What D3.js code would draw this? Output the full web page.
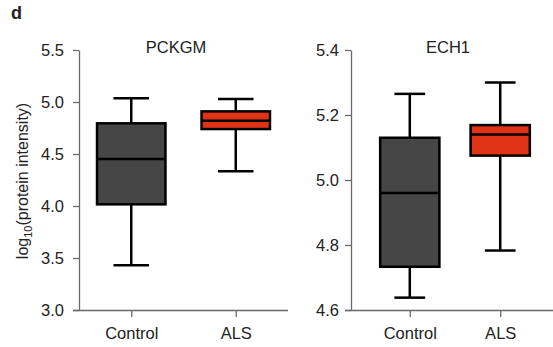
<!DOCTYPE html>
<html>
<head>
<meta charset="utf-8">
<script src="https://cdn.jsdelivr.net/npm/d3@7"></script>
<style>
  body { margin: 0; background: #fff; }
  svg text { font-family: "Liberation Sans", Arial, Helvetica, sans-serif; fill: #222; }
</style>
</head>
<body>
<svg id="chart" width="553" height="347"></svg>
<script>
// groups and panels
const categories = ["Control", "ALS"];
const panelTitles = ["PCKGM", "ECH1"];

// box stats: [whisker low, q1, median, q3, whisker high]
const pckgmControl = [3.43, 4.016, 4.452, 4.795, 5.036];
const pckgmALS = [4.334, 4.74, 4.82, 4.91, 5.03];
const ech1Control = [4.638, 4.733, 4.96, 5.13, 5.265];
const ech1ALS = [4.783, 5.075, 5.14, 5.169, 5.30];

// axis ticks
const pckgmTicks = [3.0, 3.5, 4.0, 4.5, 5.0, 5.5];
const ech1Ticks = [4.6, 4.8, 5.0, 5.2, 5.4];

const fills = {Control: "#464646", ALS: "#e03214"};

let svg = d3.select("#chart");

// panel label
svg.append("text").attr("x", 11).attr("y", 19)
   .style("font-weight", "bold").style("font-size", "18px").text("d");

// y title
let yt = svg.append("text")
   .attr("transform", "translate(28,181) rotate(-90)")
   .attr("text-anchor", "middle").style("font-size", "16px");
yt.append("tspan").text("log");
yt.append("tspan").attr("dy", 4).style("font-size", "11px").text("10");
yt.append("tspan").attr("dy", -4).text("(protein intensity)");

function panel(opts) {
  let y = d3.scaleLinear().domain(opts.domain).range([310, 50]);
  let x = d3.scalePoint().domain(categories).range(opts.xr).padding(opts.pad);
  let step = x.step();
  let g = svg.append("g");

  let ya = g.append("g").attr("transform", `translate(${opts.xr[0]},0)`)
     .call(d3.axisLeft(y).tickValues(opts.ticks).tickFormat(d3.format(".1f"))
       .tickSize(6).tickPadding(opts.ypad).tickSizeOuter(0));
  let xa = g.append("g").attr("transform", "translate(0,310)")
     .call(d3.axisBottom(x).tickSize(7).tickPadding(10).tickSizeOuter(0));
  xa.select(".domain").attr("d", `M${opts.xr[0] - 6},0.5H${opts.xEnd}`);
  [ya, xa].forEach(a => {
    a.selectAll("path,line").attr("stroke", "#6a6a6a").attr("stroke-width", 1.3);
    a.selectAll("text").style("font-size", "16.5px").attr("fill", "#222");
  });

  g.append("text").attr("x", opts.titleX).attr("y", 53)
   .attr("text-anchor", "middle").style("font-size", "16.5px").text(opts.title);

  let bw = step * 0.655, cw = step * 0.34;
  let boxes = g.selectAll(".box").data(categories.map((c, i) => ({c: c, s: opts.stats[i]})))
    .join("g").attr("class", "box");
  boxes.append("line")
    .attr("x1", d => x(d.c)).attr("x2", d => x(d.c))
    .attr("y1", d => y(d.s[0])).attr("y2", d => y(d.s[4]));
  boxes.append("line")
    .attr("x1", d => x(d.c) - cw / 2).attr("x2", d => x(d.c) + cw / 2)
    .attr("y1", d => y(d.s[0])).attr("y2", d => y(d.s[0]));
  boxes.append("line")
    .attr("x1", d => x(d.c) - cw / 2).attr("x2", d => x(d.c) + cw / 2)
    .attr("y1", d => y(d.s[4])).attr("y2", d => y(d.s[4]));
  boxes.append("rect")
    .attr("x", d => x(d.c) - bw / 2).attr("width", bw)
    .attr("y", d => y(d.s[3])).attr("height", d => y(d.s[1]) - y(d.s[3]))
    .attr("fill", d => fills[d.c]);
  boxes.append("line")
    .attr("x1", d => x(d.c) - bw / 2).attr("x2", d => x(d.c) + bw / 2)
    .attr("y1", d => y(d.s[2])).attr("y2", d => y(d.s[2]));
  boxes.selectAll("line,rect").attr("stroke", "#000").attr("stroke-width", 2.5);
}

panel({domain: [3.0, 5.5], ticks: pckgmTicks, xr: [79, 288], pad: 0.5, xEnd: 288,
       ypad: 9, title: panelTitles[0], titleX: 176, stats: [pckgmControl, pckgmALS]});
panel({domain: [4.6, 5.4], ticks: ech1Ticks, xr: [351, 559], pad: 0.65, xEnd: 553,
       ypad: 6, title: panelTitles[1], titleX: 448, stats: [ech1Control, ech1ALS]});
</script>
</body>
</html>
